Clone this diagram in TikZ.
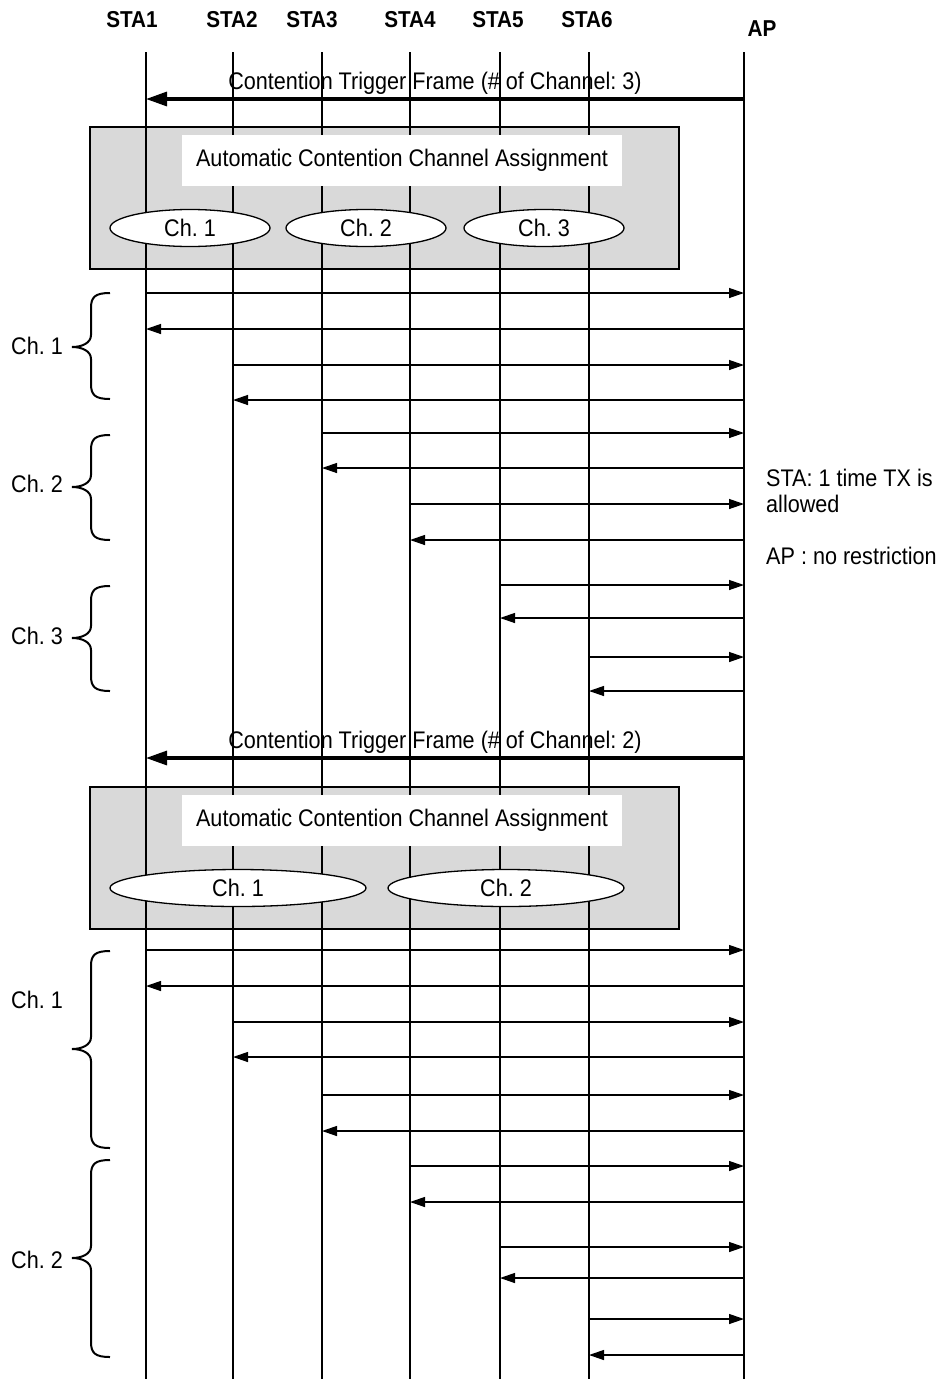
\documentclass[tikz,border=0pt]{standalone}
\usepackage{fontspec}
\setmainfont{Liberation Sans}[FakeStretch=0.9]
\usetikzlibrary{arrows.meta,shapes.geometric}
\definecolor{boxgray}{HTML}{D9D9D9}
\frenchspacing
\newcommand{\mybrace}[3]{%
  \draw[bracestyle] (110,#1) .. controls (95,#1) and (91,#1+4) .. (91,#1+15)
    -- (91,#2-12) .. controls (91,#2-4) and (82,#2) .. (72,#2)
    .. controls (82,#2) and (91,#2+4) .. (91,#2+12)
    -- (91,#3-15) .. controls (91,#3-4) and (95,#3) .. (110,#3);}
\begin{document}
\frenchspacing
\begin{tikzpicture}[x=1pt,y=-1pt,
  lifeline/.style={line width=1.3pt},
  msg/.style={line width=1.3pt,-{Triangle[length=15pt,width=10pt]}},
  trig/.style={line width=3.2pt,-{Triangle[length=21pt,width=14pt]}},
  hdr/.style={font=\fontsize{23}{27}\selectfont\bfseries},
  txt/.style={font=\fontsize{24}{28}\selectfont},
  graybox/.style={draw,line width=1.5pt,fill=boxgray},
  titlebox/.style={fill=white,txt,minimum width=440pt,minimum height=51pt,inner sep=0pt},
  chell/.style={ellipse,draw,fill=white,line width=1.3pt,txt,minimum height=37pt,inner sep=0pt},
  bracestyle/.style={line width=2pt},
  plain/.style={txt,inner sep=0pt}
]
\useasboundingbox (0,0) rectangle (944,1379);

% header labels
\node[hdr] (h1) at (132,20) {STA1};
\node[hdr] (h2) at (232,20) {STA2};
\node[hdr] (h3) at (312,20) {STA3};
\node[hdr] (h4) at (410,20) {STA4};
\node[hdr] (h5) at (498,20) {STA5};
\node[hdr] (h6) at (587,20) {STA6};
\node[hdr] (hap) at (762,29) {AP};

% lifeline coordinates
\coordinate (l1) at (146,52);  \coordinate (b1) at (146,1379);
\coordinate (l2) at (233,52);  \coordinate (b2) at (233,1379);
\coordinate (l3) at (322,52);  \coordinate (b3) at (322,1379);
\coordinate (l4) at (410,52);  \coordinate (b4) at (410,1379);
\coordinate (l5) at (500,52);  \coordinate (b5) at (500,1379);
\coordinate (l6) at (589,52);  \coordinate (b6) at (589,1379);
\coordinate (ap) at (744,52);  \coordinate (bap) at (744,1379);

% gray boxes
\node[graybox,minimum width=589pt,minimum height=142pt,anchor=north west,inner sep=0pt] (box1) at (89,126) {};
\node[graybox,minimum width=589pt,minimum height=142pt,anchor=north west,inner sep=0pt] (box2) at (89,786) {};

% lifelines
\foreach \t/\b in {l1/b1,l2/b2,l3/b3,l4/b4,l5/b5,l6/b6,ap/bap}
  \draw[lifeline] (\t) -- (\b);

% assignment boxes
\node[titlebox] (as1) at (402,160) {Automatic Contention Channel Assignment};
\node[chell,minimum width=160pt] (e11) at (190,228) {Ch. 1};
\node[chell,minimum width=160pt] (e12) at (366,228) {Ch. 2};
\node[chell,minimum width=160pt] (e13) at (544,228) {Ch. 3};

\node[titlebox] (as2) at (402,820) {Automatic Contention Channel Assignment};
\node[chell,minimum width=256pt] (e21) at (238,888) {Ch. 1};
\node[chell,minimum width=236pt] (e22) at (506,888) {Ch. 2};

% trigger frames
\draw[trig] (ap |- 0,99) -- (l1 |- 0,99);
\node[plain] (tf1) at (435,83) {Contention Trigger Frame (\# of Channel: 3)};
\draw[trig] (ap |- 0,758) -- (l1 |- 0,758);
\node[plain] (tf2) at (435,742) {Contention Trigger Frame (\# of Channel: 2)};

% messages, phase 1
\draw[msg] (l1 |- 0,293) -- (ap |- 0,293);
\draw[msg] (ap |- 0,329) -- (l1 |- 0,329);
\draw[msg] (l2 |- 0,365) -- (ap |- 0,365);
\draw[msg] (ap |- 0,400) -- (l2 |- 0,400);
\draw[msg] (l3 |- 0,433) -- (ap |- 0,433);
\draw[msg] (ap |- 0,468) -- (l3 |- 0,468);
\draw[msg] (l4 |- 0,504) -- (ap |- 0,504);
\draw[msg] (ap |- 0,540) -- (l4 |- 0,540);
\draw[msg] (l5 |- 0,585) -- (ap |- 0,585);
\draw[msg] (ap |- 0,618) -- (l5 |- 0,618);
\draw[msg] (l6 |- 0,657) -- (ap |- 0,657);
\draw[msg] (ap |- 0,691) -- (l6 |- 0,691);

% messages, phase 2
\draw[msg] (l1 |- 0,950) -- (ap |- 0,950);
\draw[msg] (ap |- 0,986) -- (l1 |- 0,986);
\draw[msg] (l2 |- 0,1022) -- (ap |- 0,1022);
\draw[msg] (ap |- 0,1057) -- (l2 |- 0,1057);
\draw[msg] (l3 |- 0,1095) -- (ap |- 0,1095);
\draw[msg] (ap |- 0,1131) -- (l3 |- 0,1131);
\draw[msg] (l4 |- 0,1166) -- (ap |- 0,1166);
\draw[msg] (ap |- 0,1202) -- (l4 |- 0,1202);
\draw[msg] (l5 |- 0,1247) -- (ap |- 0,1247);
\draw[msg] (ap |- 0,1278) -- (l5 |- 0,1278);
\draw[msg] (l6 |- 0,1319) -- (ap |- 0,1319);
\draw[msg] (ap |- 0,1355) -- (l6 |- 0,1355);

% braces and labels
\mybrace{293}{347}{399}
\node[plain,anchor=west] (c1) at (11,346) {Ch. 1};
\mybrace{435}{487}{540}
\node[plain,anchor=west] (c2) at (11,484) {Ch. 2};
\mybrace{586}{638}{691}
\node[plain,anchor=west] (c3) at (11,636) {Ch. 3};
\mybrace{951}{1049}{1148}
\node[plain,anchor=west] (c4) at (11,1000) {Ch. 1};
\mybrace{1160}{1258}{1357}
\node[plain,anchor=west] (c5) at (11,1260) {Ch. 2};

% right notes
\node[plain,anchor=west] (n1) at (766,478) {STA: 1 time TX is};
\node[plain,anchor=west] (n2) at (766,504) {allowed};
\node[plain,anchor=west] (n3) at (766,556) {AP : no restriction};
\end{tikzpicture}
\end{document}
